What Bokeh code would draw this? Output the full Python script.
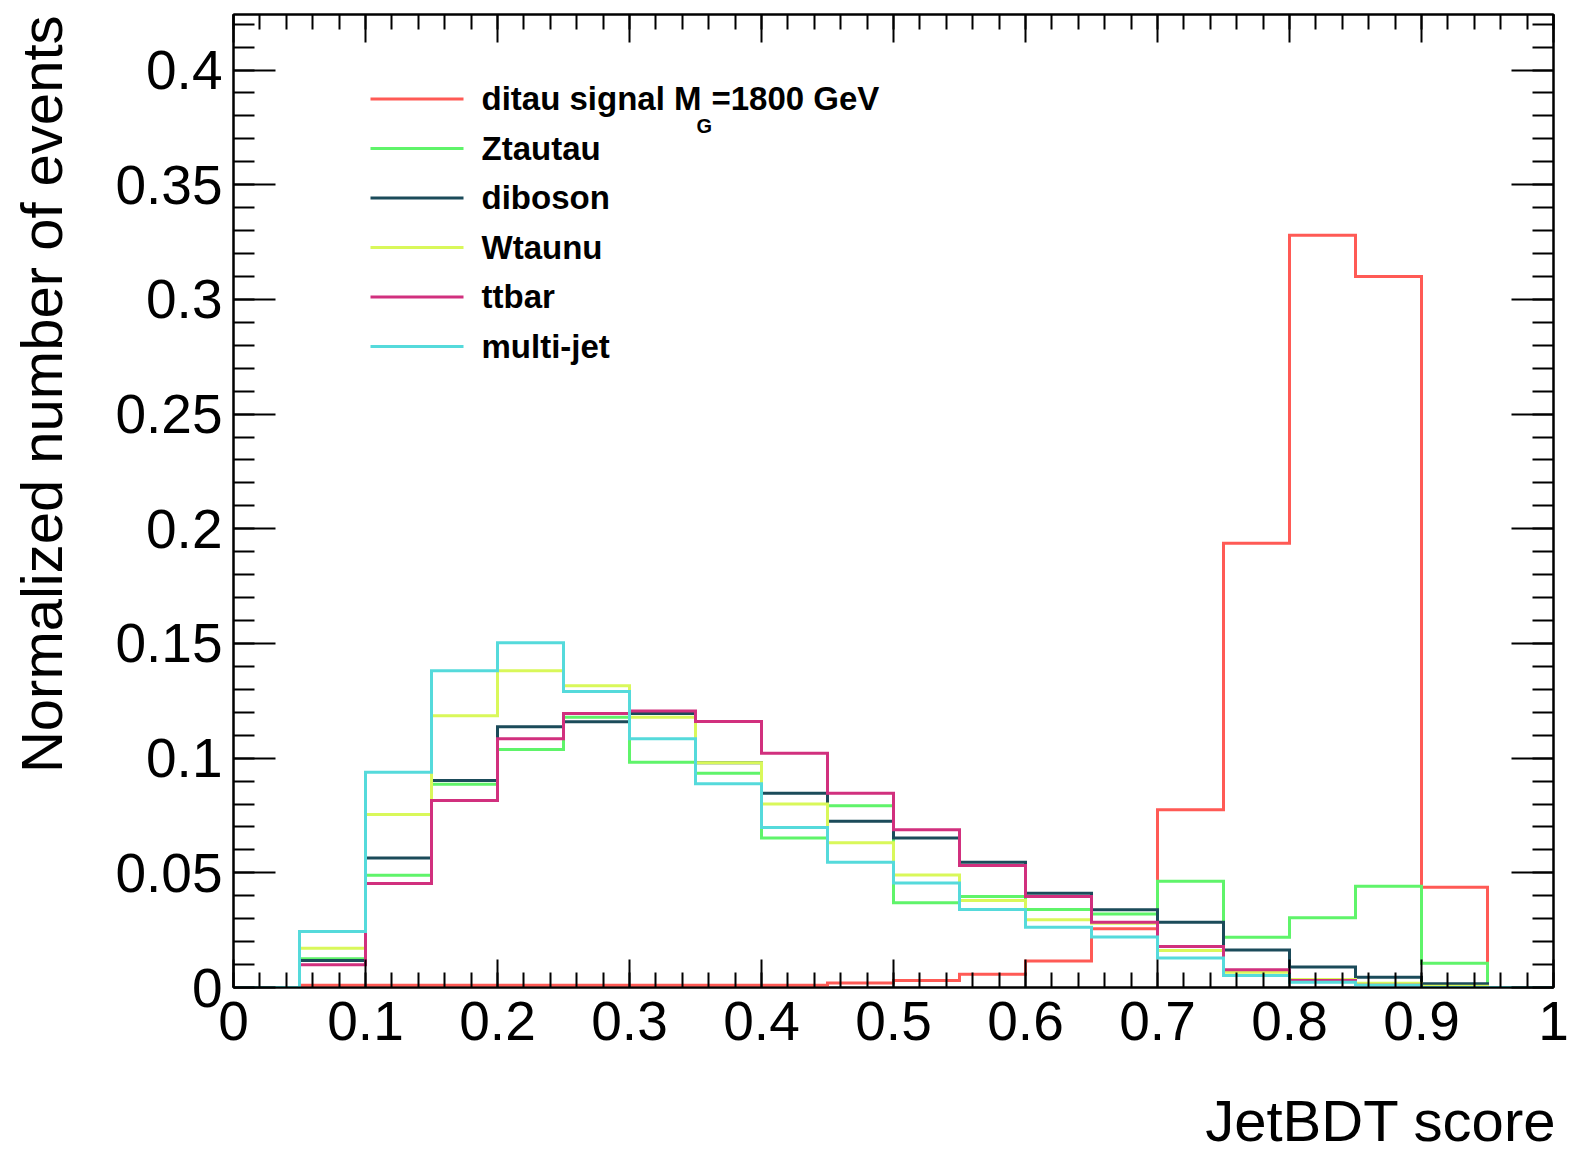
from bokeh.plotting import figure
from bokeh.models import (Range1d, SingleIntervalTicker, LinearAxis,
                          CustomJSTickFormatter, Label, Arrow, Title)
from bokeh.embed import file_html
from bokeh.resources import INLINE

# ---------------- data ----------------
bin_edges = [0.0, 0.05, 0.1, 0.15, 0.2, 0.25, 0.3, 0.35, 0.4, 0.45, 0.5,
             0.55, 0.6, 0.65, 0.7, 0.75, 0.8, 0.85, 0.9, 0.95, 1.0]

signal = [0.0, 0.001, 0.001, 0.001, 0.001, 0.001, 0.001, 0.001, 0.001, 0.002,
          0.003, 0.0058, 0.0115, 0.0256, 0.0775, 0.1937, 0.328, 0.310, 0.0437, 0.0]
ztautau = [0.0, 0.0125, 0.0489, 0.0886, 0.1038, 0.1178, 0.0982, 0.0934, 0.0652, 0.0792,
           0.0370, 0.0397, 0.0340, 0.0320, 0.0463, 0.0219, 0.0304, 0.0441, 0.0106, 0.0]
diboson = [0.0, 0.0118, 0.0565, 0.0902, 0.1137, 0.1159, 0.1195, 0.0980, 0.0847, 0.0725,
           0.0652, 0.0546, 0.0411, 0.0339, 0.0285, 0.0164, 0.0089, 0.0045, 0.0016, 0.0]
wtaunu = [0.0, 0.0171, 0.0754, 0.1185, 0.1381, 0.1315, 0.1178, 0.0980, 0.0800, 0.0631,
          0.0491, 0.0379, 0.0295, 0.0280, 0.0161, 0.0067, 0.0035, 0.0019, 0.0005, 0.0]
ttbar = [0.0, 0.0099, 0.0453, 0.0815, 0.1085, 0.1195, 0.1205, 0.1160, 0.1021, 0.0847,
         0.0688, 0.0532, 0.0397, 0.0285, 0.0179, 0.0077, 0.0030, 0.0010, 0.0, 0.0]
multijet = [0.0, 0.0244, 0.0938, 0.1381, 0.1503, 0.1291, 0.1084, 0.0888, 0.0698, 0.0546,
            0.0456, 0.0340, 0.0263, 0.0220, 0.0129, 0.0052, 0.0023, 0.0010, 0.0, 0.0]

series_names = ["ditau signal M", "Ztautau", "diboson", "Wtaunu", "ttbar", "multi-jet"]
series_values = [signal, ztautau, diboson, wtaunu, ttbar, multijet]
series_colors = ["#ff5a55", "#5ff46a", "#1b4b5a", "#d9f85a", "#d1307e", "#55dadb"]

x_title = "JetBDT score"
y_title = "Normalized number of events"
x_tick_interval = 0.1
y_tick_interval = 0.05

# ---------------- figure ----------------
FONT = "Liberation Sans"
W, H = 1572, 1154
FL, FR, FT, FB = 233, 1553, 14, 987   # frame edges in canvas px

p = figure(width=W, height=H, output_backend="svg", toolbar_location=None,
           x_range=Range1d(0, 1), y_range=Range1d(0, 0.4242),
           x_axis_type=None, y_axis_type=None,
           min_border_left=FL, min_border_right=W - FR,
           min_border_top=FT, min_border_bottom=H - FB)
p.background_fill_color = "white"
p.border_fill_color = "white"
p.outline_line_color = "black"
p.outline_line_width = 2

fmt = CustomJSTickFormatter(code="return String(Math.round(tick*100)/100);")


def make_axis(dim, show_labels):
    if dim == "x":
        tk = SingleIntervalTicker(interval=x_tick_interval, num_minor_ticks=5)
        maj, mnr = 28, 15
    else:
        tk = SingleIntervalTicker(interval=y_tick_interval, num_minor_ticks=5)
        maj, mnr = 42, 21
    ax = LinearAxis(ticker=tk, formatter=fmt,
                    major_tick_in=maj, major_tick_out=0,
                    minor_tick_in=mnr, minor_tick_out=0,
                    axis_line_width=2, major_tick_line_width=2,
                    minor_tick_line_width=2,
                    axis_line_color="black", major_tick_line_color="black",
                    minor_tick_line_color="black")
    if show_labels:
        ax.major_label_text_font = FONT
        ax.major_label_text_font_size = "55px"
        ax.major_label_text_color = "black"
        ax.major_label_standoff = 14 if dim == "x" else 11
    else:
        ax.major_label_text_font_size = "1px"
        ax.major_label_text_color = None
        ax.major_label_standoff = 0
    return ax


def spacer(size):
    # practically invisible panel item that reserves space between axis and title
    return Title(text=".", text_font_size="2px", text_color="white",
                 standoff=size, align="left")


p.add_layout(make_axis("x", True), "below")
p.add_layout(make_axis("x", False), "above")
p.add_layout(make_axis("y", True), "left")
p.add_layout(make_axis("y", False), "right")

# ---------------- axis titles (aligned to axis end, ROOT style) ----------------
p.add_layout(spacer(40), "below")
p.add_layout(Title(text=x_title, align="right", vertical_align="bottom",
                   text_font=FONT, text_font_size="58px", text_font_style="normal",
                   text_color="black", standoff=0, offset=-3), "below")
p.add_layout(spacer(34), "left")
p.add_layout(Title(text=y_title, align="right", vertical_align="top",
                   text_font=FONT, text_font_size="58px", text_font_style="normal",
                   text_color="black", standoff=0, offset=1), "left")

# ---------------- histograms ----------------
for vals, col in zip(series_values, series_colors):
    p.step(x=bin_edges, y=list(vals) + [vals[-1]], mode="after",
           line_color=col, line_width=3, line_join="miter")

# ---------------- legend ----------------
row0, row_step = 98.5, 49.5
for i, (name, col) in enumerate(zip(series_names, series_colors)):
    ly = FB - (row0 + row_step * i)
    p.add_layout(Arrow(x_start=370 - FL, y_start=ly, x_end=463 - FL, y_end=ly,
                       start_units="screen", end_units="screen", end=None,
                       line_color=col, line_width=3))
    p.add_layout(Label(x=481 - FL, y=ly + 0.5, x_units="screen", y_units="screen",
                       text=name, text_font=FONT, text_font_style="bold",
                       text_font_size="33px", text_baseline="alphabetic",
                       text_color="black"))
    if i == 0:
        p.add_layout(Label(x=696 - FL, y=ly - 27, x_units="screen", y_units="screen",
                           text="G", text_font=FONT, text_font_style="bold",
                           text_font_size="20px", text_baseline="alphabetic",
                           text_color="black"))
        p.add_layout(Label(x=711 - FL, y=ly + 0.5, x_units="screen", y_units="screen",
                           text="=1800 GeV", text_font=FONT, text_font_style="bold",
                           text_font_size="33px", text_baseline="alphabetic",
                           text_color="black"))

open("out.html", "w").write(file_html(p, INLINE))
